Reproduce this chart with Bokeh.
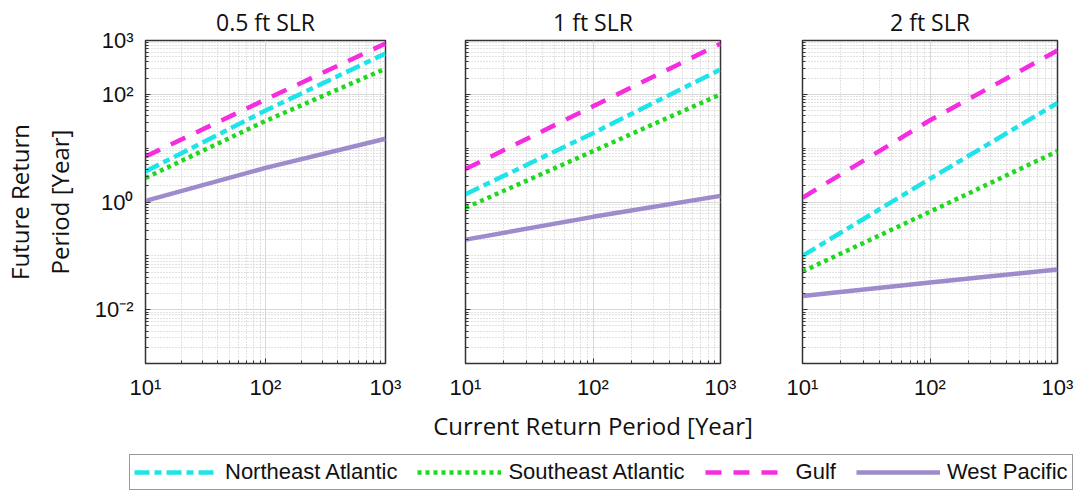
from bokeh.plotting import figure
from bokeh.layouts import column, row
from bokeh.models import (Range1d, FixedTicker, CustomJSTickFormatter, Legend, LegendItem)
from bokeh.embed import file_html
from bokeh.resources import INLINE

# ---------------- data ----------------
current_rp = [10, 100, 1000]
panel_titles = ["0.5 ft SLR", "1 ft SLR", "2 ft SLR"]
series_names = ["Northeast Atlantic", "Southeast Atlantic", "Gulf", "West Pacific"]

northeast = [[3.7, 50, 575], [1.4, 19, 290], [0.1, 2.7, 69]]
southeast = [[2.8, 32, 300], [0.78, 8.8, 100], [0.051, 0.66, 8.8]]
gulf = [[7, 80, 880], [4.1, 60, 870], [1.2, 33, 650]]
west_pacific = [[1.05, 4.3, 15], [0.2, 0.53, 1.3], [0.018, 0.032, 0.056]]

x_tick_values = [10, 100, 1000]
y_tick_values = [1e-2, 1, 1e2, 1e3]

# ---------------- styles ----------------
styles = [
    dict(color="#1EE3E8", line_width=4.5, line_dash="15 5 7 5"),
    dict(color="#1FD81F", line_width=4.5, line_dash="4 4"),
    dict(color="#F52CE0", line_width=4.5, line_dash="16 12"),
    dict(color="#9D8BCB", line_width=4.5, line_dash="solid"),
]

x_minor = [m * 10 ** k for k in range(1, 3) for m in range(2, 10)]
y_minor = sorted(set([m * 10.0 ** k for k in range(-3, 3) for m in range(1, 10)]) - set(y_tick_values))

fmt_code = r"""
const sup = {"0":"\u2070","1":"\u00b9","2":"\u00b2","3":"\u00b3","4":"\u2074","5":"\u2075",
             "6":"\u2076","7":"\u2077","8":"\u2078","9":"\u2079","-":"\u207b"};
const e = Math.round(Math.log10(tick));
return "10" + String(e).split("").map(c => sup[c]).join("");
"""

LABEL_FONT = "Open Sans"
FRAME_W = 255
borders = [(130, 40), (40, 41), (41, 30)]
series = [northeast, southeast, gulf, west_pacific]

figs = []
for i in range(3):
    bl, br = borders[i]
    p = figure(width=bl + FRAME_W + br, height=450, x_axis_type="log", y_axis_type="log",
               x_range=Range1d(10, 1000), y_range=Range1d(1e-3, 1e3),
               output_backend="svg", toolbar_location=None,
               min_border_left=bl, min_border_right=br, min_border_top=38, min_border_bottom=87)
    p.title.text = panel_titles[i]
    p.title.align = "center"
    p.title.text_font = LABEL_FONT
    p.title.text_font_size = "23px"
    p.title.text_font_style = "normal"
    p.title.text_color = "#111111"
    p.title.standoff = 6

    for s, st in zip(series, styles):
        p.line(current_rp, s[i], **st)

    p.outline_line_color = "#333333"
    p.outline_line_width = 1.5

    p.xaxis.ticker = FixedTicker(ticks=x_tick_values, minor_ticks=x_minor)
    p.yaxis.ticker = FixedTicker(ticks=y_tick_values, minor_ticks=y_minor)
    for ax in (p.xaxis[0], p.yaxis[0]):
        ax.formatter = CustomJSTickFormatter(code=fmt_code)
        ax.major_tick_in = 5
        ax.major_tick_out = 0
        ax.minor_tick_in = 3
        ax.minor_tick_out = 0
        ax.axis_line_color = "#333333"
        ax.major_tick_line_color = "#333333"
        ax.minor_tick_line_color = "#333333"
        ax.major_label_text_font = "Liberation Sans"
        ax.major_label_text_font_size = "22px"
        ax.major_label_text_color = "#111111"
        ax.major_label_standoff = 12
    p.xaxis.major_label_standoff = 11

    for g in (p.xgrid[0], p.ygrid[0]):
        g.grid_line_color = "#d9d9d9"
        g.grid_line_width = 1
        g.minor_grid_line_color = "#c4c4c4"
        g.minor_grid_line_dash = "1 2"
        g.minor_grid_line_width = 1

    if i == 0:
        p.yaxis.axis_label = "Future Return\nPeriod [Year]"
        p.yaxis.axis_label_text_font = LABEL_FONT
        p.yaxis.axis_label_text_font_size = "24px"
        p.yaxis.axis_label_text_font_style = "normal"
        p.yaxis.axis_label_text_color = "#111111"
        p.yaxis.axis_label_text_line_height = 1.2
        p.yaxis.axis_label_standoff = 16
    else:
        p.yaxis.formatter = CustomJSTickFormatter(code="return '';")
        p.yaxis.major_label_standoff = 0
    if i == 1:
        p.xaxis.axis_label = "Current Return Period [Year]"
        p.xaxis.axis_label_text_font = LABEL_FONT
        p.xaxis.axis_label_text_font_size = "24px"
        p.xaxis.axis_label_text_font_style = "normal"
        p.xaxis.axis_label_text_color = "#111111"
        p.xaxis.axis_label_standoff = 6
    figs.append(p)

# ---------------- legend ----------------
pl = figure(width=1086, height=43, output_backend="svg", toolbar_location=None,
            min_border=0, x_range=Range1d(-2, -1), y_range=Range1d(-2, -1))
pl.axis.visible = False
pl.grid.visible = False
pl.outline_line_color = None
items = []
for s, name, st in zip(series, series_names, styles):
    # proxy renderers (outside the visible range) used only for the legend glyphs
    r = pl.line(current_rp, s[0], **st)
    items.append(LegendItem(label=name, renderers=[r]))
leg = Legend(items=items, orientation="horizontal", location=(129, 3),
             glyph_width=84, glyph_height=22, label_height=22, label_standoff=7,
             spacing=20, padding=4, margin=0,
             label_text_font="Liberation Sans", label_text_font_size="22px",
             label_text_color="#111111",
             border_line_color="#333333", border_line_width=1.5,
             background_fill_color="white")
pl.add_layout(leg, "center")

layout = column(row(*figs), pl)
open("out.html", "w").write(file_html(layout, INLINE))
